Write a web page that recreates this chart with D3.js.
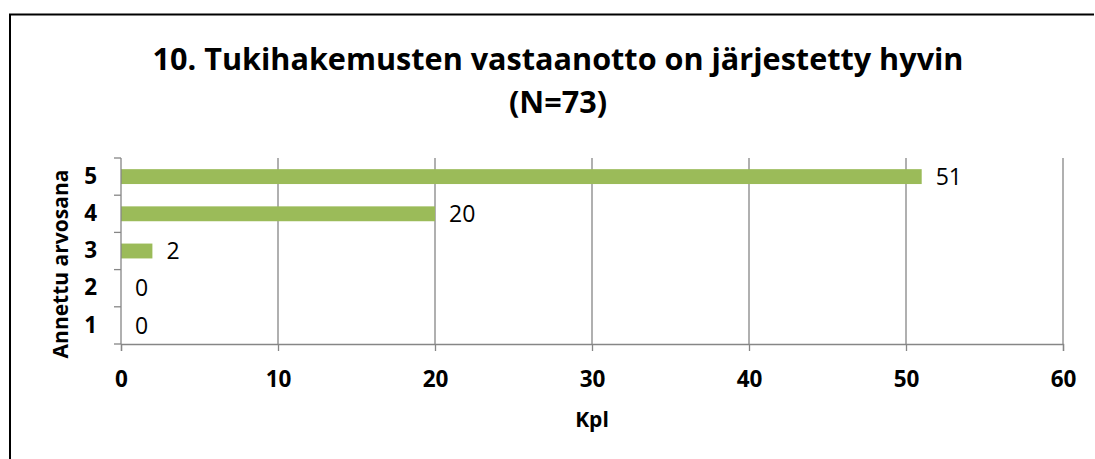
<!DOCTYPE html>
<html><head><meta charset="utf-8">
<script src="https://cdn.jsdelivr.net/npm/d3@7"></script>
<style>body{margin:0;background:#fff}svg{display:block}</style>
</head><body>
<script>
const categories = ["5","4","3","2","1"];
const values = [51,20,2,0,0];
const xTicks = [0,10,20,30,40,50,60];
const titleLines = ["10. Tukihakemusten vastaanotto on järjestetty hyvin","(N=73)"];
const xTitle = "Kpl";
const yTitle = "Annettu arvosana";

const W=1095,H=459;
const svg=d3.select("body").append("svg").attr("width",W).attr("height",H);
const font="'Open Sans', sans-serif";
// border
svg.append("path").attr("d","M10,459 V14.5 H1094").attr("fill","none").attr("stroke","#000").attr("stroke-width",2);

const x=d3.scaleLinear().domain([0,60]).range([121,1063]);
const y=d3.scaleBand().domain(categories).range([158,344]).paddingInner(0.6).paddingOuter(0.3);
const gridColor="#868686";

// gridlines
svg.append("g").selectAll("line").data(xTicks.slice(1)).join("line")
 .attr("x1",d=>x(d)).attr("x2",d=>x(d)).attr("y1",158).attr("y2",344)
 .attr("stroke",gridColor).attr("stroke-width",1.3);

// bars
svg.append("g").selectAll("rect").data(values).join("rect")
 .attr("x",x(0)).attr("y",(d,i)=>y(categories[i])).attr("width",d=>x(d)-x(0)).attr("height",y.bandwidth())
 .attr("fill","#9BBB59");

// x axis
const xa=svg.append("g").attr("transform","translate(0,344)").call(d3.axisBottom(x).tickValues(xTicks).tickSize(7).tickPadding(0));
xa.select(".domain").attr("stroke",gridColor).attr("stroke-width",1.3);
xa.selectAll(".tick line").attr("stroke",gridColor).attr("stroke-width",1.3);
xa.selectAll("text").attr("y",43).attr("dy",null).attr("font-family",font).attr("font-weight","bold").attr("font-size",22.5).attr("fill","#000");

// y axis
const y2=d3.scaleBand().domain(categories).range([158,344]);
const ya=svg.append("g").attr("transform","translate(121,0)").call(d3.axisLeft(y2).tickSize(0).tickPadding(24));
ya.select(".domain").remove();
ya.selectAll("text").attr("font-family",font).attr("font-weight","bold").attr("font-size",22.5).attr("fill","#000");
// y tick marks at band boundaries
const bounds=categories.map(c=>y2(c)).concat([344]);
svg.append("g").selectAll("line").data(bounds).join("line")
 .attr("x1",114).attr("x2",121).attr("y1",d=>d).attr("y2",d=>d).attr("stroke",gridColor).attr("stroke-width",1.3);
svg.append("line").attr("x1",121).attr("x2",121).attr("y1",158).attr("y2",344).attr("stroke",gridColor).attr("stroke-width",1.3);

// value labels
svg.append("g").selectAll("text").data(values).join("text")
 .attr("x",d=>x(d)+14).attr("y",(d,i)=>y2(categories[i])+y2.bandwidth()/2).attr("dy","0.36em")
 .attr("font-family",font).attr("font-size",23).attr("fill","#000").text(d=>d);

// titles
svg.append("g").selectAll("text").data(titleLines).join("text")
 .attr("x",558).attr("y",(d,i)=>70+i*43).attr("text-anchor","middle")
 .attr("font-family",font).attr("font-weight","bold").attr("font-size",30.6).attr("fill","#000").text(d=>d);
svg.append("text").attr("x",592).attr("y",427).attr("text-anchor","middle")
 .attr("font-family",font).attr("font-weight","bold").attr("font-size",21).text(xTitle);
svg.append("text").attr("transform","translate(68,264) rotate(-90)").attr("text-anchor","middle")
 .attr("font-family",font).attr("font-weight","bold").attr("font-size",21).text(yTitle);
</script>
</body></html>
